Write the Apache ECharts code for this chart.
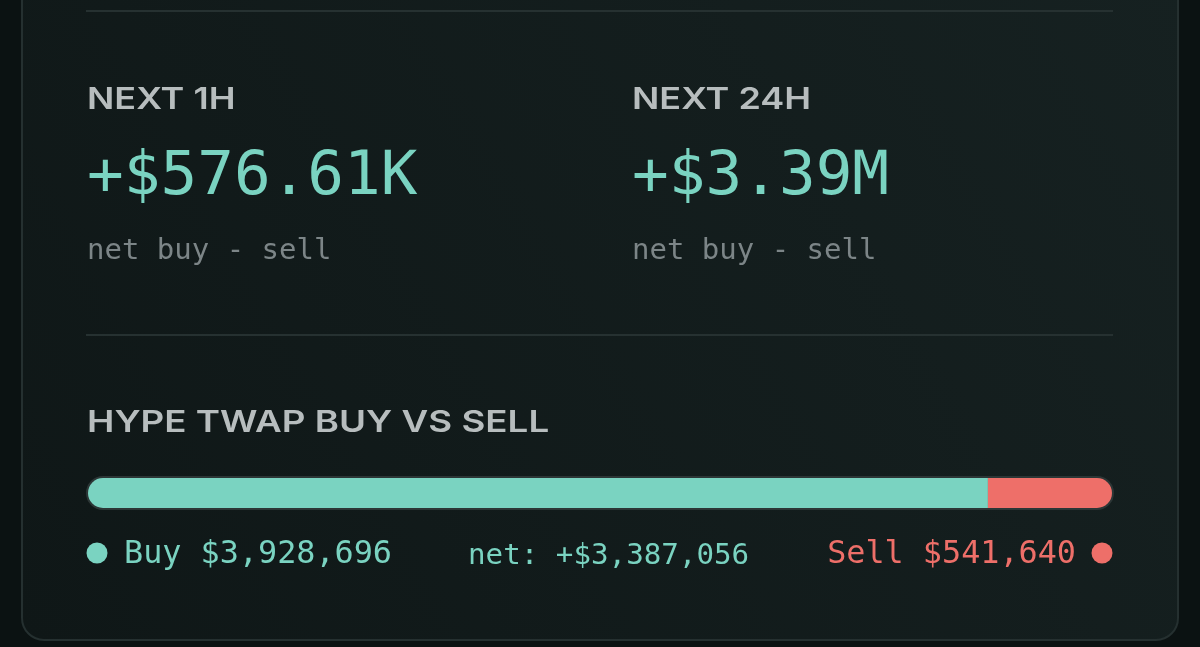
<!DOCTYPE html>
<html>
<head>
<meta charset="utf-8">
<script src="https://cdn.jsdelivr.net/npm/echarts@6/dist/echarts.min.js"></script>
<style>
  html, body { margin: 0; padding: 0; background: #0b1212; }
  #main { width: 1200px; height: 647px; }
</style>
</head>
<body>
<div id="main"></div>
<script>
// data
var categories = ['HYPE'];
var buyValues = [3928696];
var sellValues = [541640];
var horizonLabels = ['NEXT 1H', 'NEXT 24H'];
var horizonNet = [576610, 3387056];

var teal = '#7ad3c1';
var red = '#ee6f69';
var mono = '"DejaVu Sans Mono", "Liberation Mono", monospace';
var sans = 'Inter, "Noto Sans", sans-serif';

function money(v) {
  return '$' + Math.round(v).toString().replace(/\B(?=(\d{3})+(?!\d))/g, ',');
}
function short(v) {
  var s = v >= 0 ? '+$' : '-$';
  var a = Math.abs(v);
  if (a >= 1e6) return s + (a / 1e6).toFixed(2) + 'M';
  if (a >= 1e3) return s + (a / 1e3).toFixed(2) + 'K';
  return s + a.toFixed(2);
}

var total = buyValues[0] + sellValues[0];
var net = buyValues[0] - sellValues[0];

var chart = echarts.init(document.getElementById('main'));

var graphics = [
  { // card
    type: 'rect', z: -10,
    shape: { x: 22, y: -40, width: 1156, height: 680, r: 22 },
    style: {
      fill: new echarts.graphic.LinearGradient(1, 0, 0, 1, [
        { offset: 0, color: '#162121' },
        { offset: 1, color: '#0f1717' }
      ]),
      stroke: '#253030', lineWidth: 2
    }
  },
  { type: 'line', shape: { x1: 86, y1: 11, x2: 1113, y2: 11 }, style: { stroke: '#263131', lineWidth: 2 } },
  { type: 'line', shape: { x1: 86, y1: 335, x2: 1113, y2: 335 }, style: { stroke: '#263131', lineWidth: 2 } }
];

var colX = [87, 632];
horizonLabels.forEach(function (lbl, i) {
  graphics.push({
    type: 'text', x: colX[i], y: 100, scaleX: 1.2,
    style: { text: lbl, fill: '#b7bdbe', font: '600 30px ' + sans, verticalAlign: 'middle' }
  });
  graphics.push({
    type: 'text', x: colX[i], y: 178,
    style: { text: short(horizonNet[i]), fill: teal, font: '61px ' + mono, verticalAlign: 'middle' }
  });
  graphics.push({
    type: 'text', x: colX[i], y: 251,
    style: { text: 'net buy - sell', fill: '#7c8587', font: '29px ' + mono, verticalAlign: 'middle' }
  });
});

graphics.push({
  type: 'text', x: 87, y: 423, scaleX: 1.225,
  style: { text: categories[0] + ' TWAP BUY VS SELL', fill: '#b7bdbe', font: '600 30px ' + sans, verticalAlign: 'middle' }
});

// legend row
graphics.push({ type: 'circle', shape: { cx: 97, cy: 553, r: 10.5 }, style: { fill: teal } });
graphics.push({
  type: 'text', x: 124, y: 555,
  style: { text: 'Buy ' + money(buyValues[0]), fill: teal, font: '31.8px ' + mono, verticalAlign: 'middle' }
});
graphics.push({
  type: 'text', x: 468, y: 556,
  style: { text: 'net: +' + money(net), fill: teal, font: '29.2px ' + mono, verticalAlign: 'middle' }
});
graphics.push({
  type: 'text', x: 1076, y: 555,
  style: { text: 'Sell ' + money(sellValues[0]), fill: red, font: '31.8px ' + mono, verticalAlign: 'middle', align: 'right' }
});
graphics.push({ type: 'circle', shape: { cx: 1102, cy: 553, r: 10.5 }, style: { fill: red } });

var option = {
  backgroundColor: '#0b1212',
  animation: false,
  graphic: graphics,
  grid: { left: 88, top: 478, width: 1024, height: 30 },
  xAxis: { type: 'value', min: 0, max: total, show: false },
  yAxis: { type: 'category', data: categories, show: false },
  series: [
    {
      name: 'Buy', type: 'bar', stack: 'flow', barWidth: 30,
      data: buyValues,
      showBackground: true,
      backgroundStyle: { color: 'rgba(0,0,0,0)', borderColor: '#2c3636', borderWidth: 4, borderRadius: 15 },
      itemStyle: { color: teal, borderRadius: [15, 0, 0, 15] }
    },
    {
      name: 'Sell', type: 'bar', stack: 'flow', barWidth: 30,
      data: sellValues,
      itemStyle: { color: red, borderRadius: [0, 15, 15, 0] }
    }
  ]
};

chart.setOption(option);
</script>
</body>
</html>
